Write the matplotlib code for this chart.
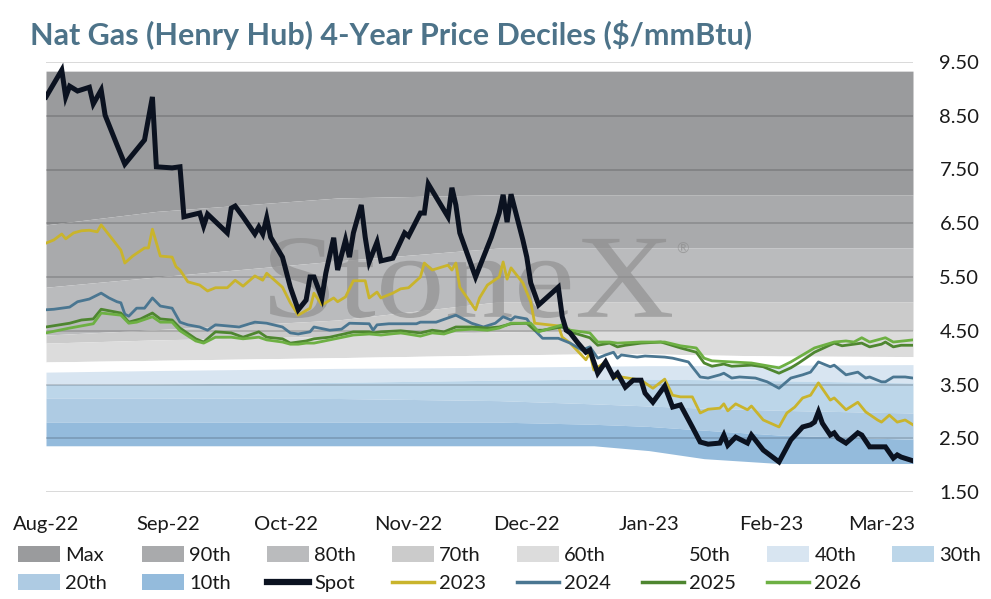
import matplotlib
matplotlib.use("Agg")
import matplotlib.pyplot as plt
import pandas as pd
import matplotlib.dates as mdates
from matplotlib.patches import Patch, PathPatch
from matplotlib.lines import Line2D
from matplotlib.textpath import TextPath
from matplotlib.font_manager import FontProperties
from matplotlib.transforms import Affine2D

plt.rcParams['font.family'] = ['Lato', 'DejaVu Sans']

# decile envelope, read at a few dates
band_dates = ["2022-08-01", "2022-08-29", "2022-10-14", "2022-11-24", "2022-12-18",
              "2023-01-01", "2023-01-15", "2023-02-03", "2023-03-09"]
dec_max = [9.33, 9.33, 9.33, 9.33, 9.33, 9.33, 9.33, 9.33, 9.33]
dec_90 = [6.47, 6.72, 6.97, 7.03, 7.03, 7.03, 7.03, 7.03, 7.03]
dec_80 = [5.31, 5.50, 5.80, 6.04, 6.04, 6.04, 6.04, 6.04, 6.04]
dec_70 = [4.42, 4.52, 4.70, 5.04, 5.04, 5.04, 5.04, 5.04, 5.04]
dec_60 = [4.27, 4.33, 4.40, 4.48, 4.50, 4.50, 4.50, 4.50, 4.50]
dec_50 = [3.92, 3.95, 4.00, 4.05, 4.07, 4.07, 4.05, 4.03, 4.02]
dec_40 = [3.73, 3.76, 3.80, 3.82, 3.84, 3.85, 3.85, 3.86, 3.87]
dec_30 = [3.50, 3.51, 3.54, 3.58, 3.60, 3.60, 3.59, 3.57, 3.53]
dec_20 = [3.25, 3.25, 3.24, 3.20, 3.14, 3.10, 3.06, 3.02, 2.97]
dec_10 = [2.80, 2.80, 2.80, 2.80, 2.76, 2.72, 2.65, 2.56, 2.48]
dec_min = [2.36, 2.36, 2.36, 2.36, 2.36, 2.27, 2.12, 2.03, 2.03]

band_labels = ["Max", "90th", "80th", "70th", "60th", "50th", "40th", "30th", "20th", "10th"]
band_colors = ["#9a9b9d", "#a9aaac", "#babbbd", "#cbcbcb", "#dcdcdc", "#ffffff",
               "#d8e5f1", "#bcd6e9", "#aecbe3", "#94bbdc"]

spot = [("2022-08-01", 8.85), ("2022-08-05", 9.35), ("2022-08-06", 8.85), ("2022-08-07", 9.05),
        ("2022-08-09", 8.96), ("2022-08-12", 9.03), ("2022-08-13", 8.72), ("2022-08-15", 8.98),
        ("2022-08-16", 8.51), ("2022-08-19", 7.96), ("2022-08-21", 7.60), ("2022-08-26", 8.05),
        ("2022-08-28", 8.85), ("2022-08-29", 7.55), ("2022-09-02", 7.53), ("2022-09-04", 7.55),
        ("2022-09-05", 6.62), ("2022-09-09", 6.69), ("2022-09-10", 6.45), ("2022-09-11", 6.67),
        ("2022-09-16", 6.32), ("2022-09-17", 6.78), ("2022-09-18", 6.82), ("2022-09-20", 6.62),
        ("2022-09-23", 6.30), ("2022-09-24", 6.43), ("2022-09-25", 6.30), ("2022-09-26", 6.60),
        ("2022-09-27", 6.24), ("2022-09-30", 5.87), ("2022-10-02", 5.31), ("2022-10-04", 4.89),
        ("2022-10-06", 5.07), ("2022-10-07", 5.50), ("2022-10-08", 5.50), ("2022-10-10", 5.11),
        ("2022-10-11", 5.57), ("2022-10-13", 6.23), ("2022-10-14", 5.63), ("2022-10-16", 6.19),
        ("2022-10-17", 5.87), ("2022-10-18", 6.32), ("2022-10-20", 6.84), ("2022-10-21", 6.24),
        ("2022-10-22", 5.78), ("2022-10-24", 6.15), ("2022-10-25", 5.80), ("2022-10-28", 5.85),
        ("2022-10-31", 6.32), ("2022-11-01", 6.26), ("2022-11-04", 6.69), ("2022-11-05", 6.69),
        ("2022-11-06", 7.23), ("2022-11-11", 6.62), ("2022-11-12", 7.16), ("2022-11-13", 6.84),
        ("2022-11-14", 6.32), ("2022-11-18", 5.50), ("2022-11-22", 6.24), ("2022-11-24", 6.69),
        ("2022-11-25", 7.03), ("2022-11-26", 6.52), ("2022-11-27", 7.04), ("2022-11-30", 6.19),
        ("2022-12-01", 5.87), ("2022-12-02", 5.39), ("2022-12-04", 4.98), ("2022-12-09", 5.31),
        ("2022-12-10", 4.76), ("2022-12-11", 4.51), ("2022-12-12", 4.46), ("2022-12-14", 4.27),
        ("2022-12-16", 4.10), ("2022-12-17", 4.14), ("2022-12-19", 3.71), ("2022-12-21", 3.92),
        ("2022-12-23", 3.64), ("2022-12-24", 3.71), ("2022-12-26", 3.45), ("2022-12-28", 3.58),
        ("2022-12-30", 3.58), ("2022-12-31", 3.34), ("2023-01-02", 3.17), ("2023-01-05", 3.47),
        ("2023-01-07", 3.08), ("2023-01-09", 3.12), ("2023-01-12", 2.71), ("2023-01-14", 2.43),
        ("2023-01-16", 2.39), ("2023-01-19", 2.41), ("2023-01-20", 2.56), ("2023-01-21", 2.37),
        ("2023-01-23", 2.52), ("2023-01-26", 2.41), ("2023-01-27", 2.56), ("2023-01-30", 2.28),
        ("2023-02-03", 2.06), ("2023-02-06", 2.47), ("2023-02-09", 2.71), ("2023-02-11", 2.75),
        ("2023-02-12", 2.80), ("2023-02-13", 2.99), ("2023-02-14", 2.78), ("2023-02-16", 2.56),
        ("2023-02-17", 2.60), ("2023-02-18", 2.50), ("2023-02-20", 2.41), ("2023-02-23", 2.60),
        ("2023-02-24", 2.56), ("2023-02-26", 2.34), ("2023-03-02", 2.34), ("2023-03-04", 2.13),
        ("2023-03-05", 2.19), ("2023-03-06", 2.15), ("2023-03-09", 2.08)]

strip_2023 = [("2022-08-01", 6.13), ("2022-08-03", 6.19), ("2022-08-05", 6.30), ("2022-08-06", 6.21),
              ("2022-08-08", 6.32), ("2022-08-10", 6.36), ("2022-08-12", 6.37), ("2022-08-14", 6.34),
              ("2022-08-15", 6.47), ("2022-08-18", 6.19), ("2022-08-20", 6.00), ("2022-08-21", 5.76),
              ("2022-08-23", 5.89), ("2022-08-26", 6.04), ("2022-08-27", 6.04), ("2022-08-28", 6.39),
              ("2022-08-30", 5.89), ("2022-09-02", 5.87), ("2022-09-03", 5.69), ("2022-09-04", 5.63),
              ("2022-09-06", 5.41), ("2022-09-09", 5.35), ("2022-09-11", 5.24), ("2022-09-13", 5.30),
              ("2022-09-16", 5.30), ("2022-09-18", 5.44), ("2022-09-20", 5.33), ("2022-09-23", 5.52),
              ("2022-09-25", 5.44), ("2022-09-26", 5.57), ("2022-09-30", 5.31), ("2022-10-02", 5.02),
              ("2022-10-04", 4.79), ("2022-10-07", 4.92), ("2022-10-08", 5.20), ("2022-10-10", 4.98),
              ("2022-10-13", 5.11), ("2022-10-14", 5.04), ("2022-10-16", 5.13), ("2022-10-18", 5.43),
              ("2022-10-21", 5.43), ("2022-10-22", 5.11), ("2022-10-24", 5.22), ("2022-10-25", 5.11),
              ("2022-10-28", 5.20), ("2022-10-30", 5.28), ("2022-11-01", 5.30), ("2022-11-04", 5.50),
              ("2022-11-05", 5.76), ("2022-11-07", 5.63), ("2022-11-11", 5.72), ("2022-11-12", 5.63),
              ("2022-11-13", 5.76), ("2022-11-14", 5.31), ("2022-11-18", 4.89), ("2022-11-19", 5.11),
              ("2022-11-21", 5.35), ("2022-11-24", 5.50), ("2022-11-25", 5.78), ("2022-11-26", 5.46),
              ("2022-11-27", 5.67), ("2022-11-30", 5.39), ("2022-12-02", 5.04), ("2022-12-03", 4.64),
              ("2022-12-09", 4.59), ("2022-12-10", 4.38), ("2022-12-12", 4.27), ("2022-12-16", 3.96),
              ("2022-12-17", 4.09), ("2022-12-18", 3.77), ("2022-12-21", 3.92), ("2022-12-23", 3.62),
              ("2022-12-25", 3.64), ("2022-12-30", 3.58), ("2023-01-02", 3.43), ("2023-01-05", 3.60),
              ("2023-01-07", 3.30), ("2023-01-09", 3.27), ("2023-01-12", 3.27), ("2023-01-14", 2.97),
              ("2023-01-16", 3.04), ("2023-01-19", 3.06), ("2023-01-20", 3.14), ("2023-01-21", 3.01),
              ("2023-01-23", 3.14), ("2023-01-26", 3.03), ("2023-01-27", 3.10), ("2023-01-30", 2.84),
              ("2023-02-03", 2.71), ("2023-02-05", 2.97), ("2023-02-07", 3.08), ("2023-02-09", 3.25),
              ("2023-02-11", 3.30), ("2023-02-13", 3.53), ("2023-02-16", 3.21), ("2023-02-17", 3.25),
              ("2023-02-20", 3.03), ("2023-02-23", 3.17), ("2023-02-25", 2.99), ("2023-02-28", 2.84),
              ("2023-03-01", 2.80), ("2023-03-03", 2.93), ("2023-03-05", 2.80), ("2023-03-07", 2.84),
              ("2023-03-09", 2.75)]

strip_2024 = [("2022-08-01", 4.89), ("2022-08-03", 4.90), ("2022-08-07", 4.94), ("2022-08-09", 5.04),
              ("2022-08-12", 5.09), ("2022-08-15", 5.20), ("2022-08-17", 5.11), ("2022-08-19", 5.04),
              ("2022-08-20", 5.02), ("2022-08-21", 4.81), ("2022-08-22", 4.77), ("2022-08-24", 4.92),
              ("2022-08-26", 4.92), ("2022-08-28", 5.11), ("2022-08-30", 4.96), ("2022-09-02", 4.92),
              ("2022-09-04", 4.66), ("2022-09-06", 4.61), ("2022-09-09", 4.57), ("2022-09-11", 4.51),
              ("2022-09-13", 4.61), ("2022-09-19", 4.57), ("2022-09-23", 4.66), ("2022-09-26", 4.64),
              ("2022-09-30", 4.57), ("2022-10-02", 4.46), ("2022-10-04", 4.44), ("2022-10-07", 4.48),
              ("2022-10-08", 4.57), ("2022-10-12", 4.51), ("2022-10-15", 4.53), ("2022-10-17", 4.64),
              ("2022-10-22", 4.63), ("2022-10-23", 4.51), ("2022-10-24", 4.61), ("2022-10-27", 4.63),
              ("2022-11-03", 4.63), ("2022-11-04", 4.66), ("2022-11-08", 4.66), ("2022-11-13", 4.79),
              ("2022-11-17", 4.64), ("2022-11-20", 4.57), ("2022-11-23", 4.64), ("2022-11-25", 4.76),
              ("2022-11-27", 4.70), ("2022-11-28", 4.76), ("2022-12-01", 4.72), ("2022-12-03", 4.51),
              ("2022-12-05", 4.36), ("2022-12-09", 4.36), ("2022-12-12", 4.27), ("2022-12-15", 4.14),
              ("2022-12-17", 4.20), ("2022-12-19", 3.99), ("2022-12-21", 4.05), ("2022-12-23", 4.10),
              ("2022-12-24", 3.99), ("2022-12-25", 4.05), ("2022-12-29", 4.01), ("2022-12-31", 4.03),
              ("2023-01-05", 4.01), ("2023-01-07", 3.99), ("2023-01-11", 3.92), ("2023-01-14", 3.64),
              ("2023-01-16", 3.62), ("2023-01-19", 3.68), ("2023-01-20", 3.71), ("2023-01-22", 3.62),
              ("2023-01-24", 3.64), ("2023-01-28", 3.62), ("2023-01-31", 3.55), ("2023-02-03", 3.43),
              ("2023-02-06", 3.62), ("2023-02-09", 3.68), ("2023-02-11", 3.73), ("2023-02-13", 3.92),
              ("2023-02-16", 3.83), ("2023-02-17", 3.86), ("2023-02-20", 3.68), ("2023-02-23", 3.73),
              ("2023-02-25", 3.62), ("2023-02-26", 3.64), ("2023-03-01", 3.55), ("2023-03-02", 3.55),
              ("2023-03-04", 3.64), ("2023-03-07", 3.64), ("2023-03-09", 3.62)]

strip_2025 = [("2022-08-01", 4.57), ("2022-08-07", 4.64), ("2022-08-10", 4.70), ("2022-08-13", 4.72),
              ("2022-08-15", 4.90), ("2022-08-20", 4.83), ("2022-08-22", 4.66), ("2022-08-25", 4.72),
              ("2022-08-28", 4.83), ("2022-08-30", 4.72), ("2022-09-02", 4.70), ("2022-09-04", 4.55),
              ("2022-09-08", 4.35), ("2022-09-10", 4.29), ("2022-09-13", 4.48), ("2022-09-17", 4.46),
              ("2022-09-20", 4.38), ("2022-09-24", 4.48), ("2022-09-26", 4.38), ("2022-09-30", 4.35),
              ("2022-10-02", 4.27), ("2022-10-04", 4.29), ("2022-10-06", 4.31), ("2022-10-08", 4.35),
              ("2022-10-12", 4.38), ("2022-10-18", 4.48), ("2022-10-22", 4.48), ("2022-10-23", 4.46),
              ("2022-10-25", 4.48), ("2022-10-30", 4.50), ("2022-11-04", 4.46), ("2022-11-07", 4.51),
              ("2022-11-10", 4.48), ("2022-11-13", 4.57), ("2022-11-17", 4.57), ("2022-11-21", 4.55),
              ("2022-11-24", 4.57), ("2022-11-27", 4.63), ("2022-12-01", 4.64), ("2022-12-03", 4.51),
              ("2022-12-05", 4.51), ("2022-12-10", 4.57), ("2022-12-12", 4.48), ("2022-12-17", 4.37),
              ("2022-12-19", 4.23), ("2022-12-22", 4.27), ("2022-12-24", 4.20), ("2022-12-26", 4.23),
              ("2022-12-30", 4.27), ("2023-01-04", 4.29), ("2023-01-05", 4.27), ("2023-01-09", 4.18),
              ("2023-01-13", 4.10), ("2023-01-15", 3.90), ("2023-01-17", 3.84), ("2023-01-20", 3.88),
              ("2023-01-22", 3.84), ("2023-01-27", 3.86), ("2023-01-30", 3.83), ("2023-02-03", 3.71),
              ("2023-02-06", 3.81), ("2023-02-08", 3.90), ("2023-02-12", 4.10), ("2023-02-17", 4.27),
              ("2023-02-19", 4.22), ("2023-02-22", 4.25), ("2023-02-24", 4.27), ("2023-02-26", 4.20),
              ("2023-03-01", 4.25), ("2023-03-02", 4.29), ("2023-03-04", 4.20), ("2023-03-06", 4.23),
              ("2023-03-09", 4.23)]

strip_2026 = [("2022-08-01", 4.46), ("2022-08-07", 4.55), ("2022-08-10", 4.59), ("2022-08-13", 4.63),
              ("2022-08-15", 4.83), ("2022-08-20", 4.79), ("2022-08-22", 4.64), ("2022-08-24", 4.66),
              ("2022-08-28", 4.76), ("2022-08-30", 4.66), ("2022-09-02", 4.66), ("2022-09-04", 4.50),
              ("2022-09-08", 4.31), ("2022-09-10", 4.27), ("2022-09-13", 4.38), ("2022-09-17", 4.38),
              ("2022-09-20", 4.35), ("2022-09-24", 4.38), ("2022-09-26", 4.33), ("2022-09-30", 4.29),
              ("2022-10-02", 4.25), ("2022-10-04", 4.25), ("2022-10-06", 4.27), ("2022-10-08", 4.27),
              ("2022-10-12", 4.33), ("2022-10-18", 4.42), ("2022-10-22", 4.44), ("2022-10-25", 4.42),
              ("2022-10-30", 4.46), ("2022-11-04", 4.40), ("2022-11-07", 4.46), ("2022-11-10", 4.44),
              ("2022-11-13", 4.51), ("2022-11-17", 4.53), ("2022-11-21", 4.51), ("2022-11-24", 4.55),
              ("2022-11-27", 4.64), ("2022-12-02", 4.64), ("2022-12-04", 4.48), ("2022-12-10", 4.61),
              ("2022-12-12", 4.51), ("2022-12-17", 4.46), ("2022-12-19", 4.29), ("2022-12-22", 4.29),
              ("2022-12-24", 4.27), ("2022-12-30", 4.29), ("2023-01-05", 4.29), ("2023-01-09", 4.22),
              ("2023-01-13", 4.18), ("2023-01-15", 3.99), ("2023-01-17", 3.94), ("2023-01-22", 3.92),
              ("2023-01-27", 3.90), ("2023-02-03", 3.81), ("2023-02-06", 3.92), ("2023-02-09", 4.05),
              ("2023-02-12", 4.18), ("2023-02-17", 4.29), ("2023-02-20", 4.31), ("2023-02-22", 4.29),
              ("2023-02-24", 4.37), ("2023-02-26", 4.29), ("2023-03-02", 4.37), ("2023-03-04", 4.29),
              ("2023-03-09", 4.33)]

line_series = [("Spot", spot, "#0b1220", 3.6),
               ("2023", strip_2023, "#c9b42c", 2.0),
               ("2024", strip_2024, "#4a7691", 2.0),
               ("2025", strip_2025, "#4e8630", 2.0),
               ("2026", strip_2026, "#6db043", 2.0)]

y_ticks = [1.5, 2.5, 3.5, 4.5, 5.5, 6.5, 7.5, 8.5, 9.5]
title = "Nat Gas (Henry Hub) 4-Year Price Deciles ($/mmBtu)"

W, H = 991, 599
fig = plt.figure(figsize=(W / 100, H / 100), dpi=100)
ax = fig.add_axes([46 / W, 107 / H, 867 / W, 430 / H])

bd = pd.to_datetime(band_dates)
bounds = [dec_max, dec_90, dec_80, dec_70, dec_60, dec_50, dec_40, dec_30, dec_20, dec_10, dec_min]
for i, (lab, col) in enumerate(zip(band_labels, band_colors)):
    ax.fill_between(bd, bounds[i + 1], bounds[i], color=col, lw=0, zorder=1)

for y in y_ticks:
    ax.axhline(y, color="black", alpha=0.15, lw=1.4, zorder=2)

for lab, pts, col, lw in line_series:
    d, v = zip(*pts)
    ax.plot(pd.to_datetime(list(d)), v, color=col, lw=lw, zorder=5 if lab == "Spot" else 4,
            solid_joinstyle="miter" if lab == "Spot" else "round")

ax.set_xlim(pd.Timestamp("2022-08-01"), pd.Timestamp("2023-03-09"))
ax.set_ylim(1.5, 9.5)
ax.yaxis.tick_right()
ax.set_yticks(y_ticks)
ax.set_yticklabels(["%.2f" % t for t in y_ticks])
ax.xaxis.set_major_locator(mdates.MonthLocator())
ax.xaxis.set_major_formatter(mdates.DateFormatter("%b-%y"))
ax.tick_params(axis="both", length=0, labelsize=14.5, colors="#1a1a1a")
ax.tick_params(axis="x", pad=17)
ax.tick_params(axis="y", pad=19)
for s in ax.spines.values():
    s.set_visible(False)

# StoneX watermark
fp = FontProperties(family="Liberation Serif")
tp = TextPath((0, 0), "StoneX", size=1, prop=fp)
bb = tp.get_extents()
x0, x1, ytop, ybot = 270, 672, 238, 318
sx = (x1 - x0) / bb.width
sy = (ybot - ytop) / bb.height
tr = Affine2D().translate(-bb.x0, -bb.y0).scale(sx / W, sy / H).translate(x0 / W, (H - ybot) / H)
ax.add_patch(PathPatch(tp, transform=tr + fig.transFigure, facecolor="#8a8a8a", alpha=0.6,
                       lw=0, zorder=3, clip_on=False))
fig.text(683 / W, 1 - 250 / H, "\u00ae", fontsize=11, color="#8a8a8a", alpha=0.6,
         ha="center", va="center")

fig.text(30 / W, 1 - 35 / H, title, fontsize=22, fontweight="bold", color="#4d7389",
         va="center", ha="left")

# legend, two rows laid out by columns
handles = []
for lab, col in zip(band_labels, band_colors):
    handles.append(Patch(facecolor=col, edgecolor="none", label=lab))
for lab, pts, col, lw in line_series:
    handles.append(Line2D([], [], color=col, lw=4.5 if lab == "Spot" else 2.5, label=lab))
row1, row2 = handles[:8], handles[8:]
col_x = [18, 142, 267, 392, 517, 642, 767, 892]
for i, x in enumerate(col_x):
    hs = [row1[i]] + ([row2[i]] if i < len(row2) else [])
    fig.legend(handles=hs, loc="upper left", bbox_to_anchor=(x / W, 1 - 546 / H),
               frameon=False, borderpad=0, borderaxespad=0, handlelength=2.1,
               handleheight=0.85, handletextpad=0.25, labelspacing=0.5, fontsize=14.5,
               labelcolor="#1a1a1a")

fig.savefig("out.png", dpi=100)
